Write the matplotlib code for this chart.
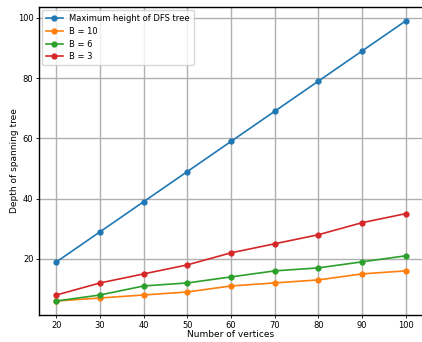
import matplotlib
matplotlib.use("Agg")
import matplotlib.pyplot as plt

vertices = [20, 30, 40, 50, 60, 70, 80, 90, 100]
dfs_height = [19, 29, 39, 49, 59, 69, 79, 89, 99]
b10 = [6, 7, 8, 9, 11, 12, 13, 15, 16]
b6 = [6, 8, 11, 12, 14, 16, 17, 19, 21]
b3 = [8, 12, 15, 18, 22, 25, 28, 32, 35]
labels = ["Maximum height of DFS tree", "B = 10", "B = 6", "B = 3"]

fig = plt.figure(figsize=(4.22, 3.42), dpi=100)
ax = fig.add_axes([39/422, 27/342, 384/422, 308/342])
for ys, lab in zip([dfs_height, b10, b6, b3], labels):
    ax.plot(vertices, ys, marker='o', markersize=3.5, linewidth=1.2, label=lab)
ax.grid(True, color='#b0b0b0', linewidth=1.0)
ax.set_xticks([20, 30, 40, 50, 60, 70, 80, 90, 100])
ax.set_yticks([20, 40, 60, 80, 100])
ax.tick_params(labelsize=6, length=2.5, width=0.6, pad=1.5)
ax.set_xlabel("Number of vertices", fontsize=6.5, labelpad=0)
ax.set_ylabel("Depth of spanning tree", fontsize=6.5, labelpad=-1)
for s in ax.spines.values():
    s.set_linewidth(1.0)
ax.legend(loc='upper left', fontsize=6, handlelength=2.0, borderpad=0.45,
          labelspacing=0.45, handletextpad=0.8, borderaxespad=0.4)
fig.savefig("out.png", dpi=100)
